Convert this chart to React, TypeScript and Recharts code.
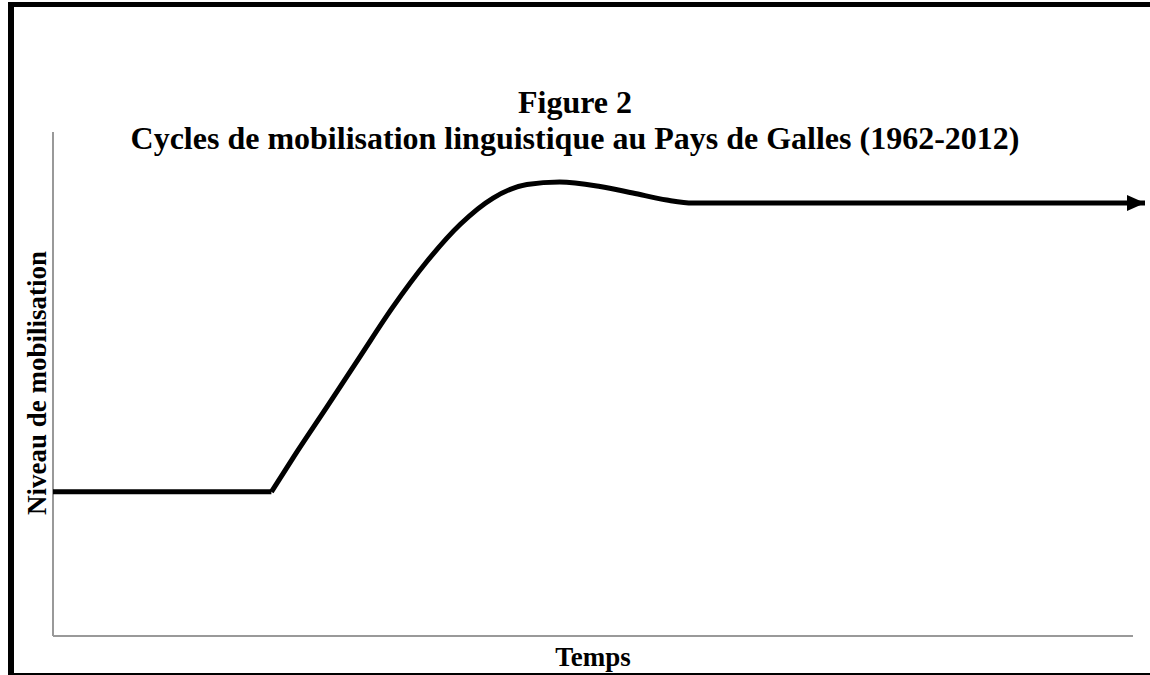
import { Line, LineChart, ReferenceLine, XAxis, YAxis } from "recharts";

// abstract time (0-100) vs mobilisation level (0-100)
const baseTime = [0, 20];
const baseLevel = [28.6, 28.6];

const riseTime = [20, 22, 25.1, 28.1, 31.1, 34.2, 37.3, 40.3, 43.4, 46.4, 50.1, 53.1, 56.2, 58.6, 64, 100];
const riseLevel = [28.6, 35.4, 45.5, 55.4, 65.2, 74.2, 81.7, 86.9, 89.6, 90.1, 89.2, 87.9, 86.5, 85.9, 85.9, 85.9];

const xAxisEnd = 98.9;
const yAxisTop = 100;

const baseData = baseTime.map((t, i) => ({ t, level: baseLevel[i] }));
const riseData = riseTime.map((t, i) => ({ t, level: riseLevel[i] }));

const serif = '"Liberation Serif", "Times New Roman", serif';
const axisGray = "#999999";

function ArrowDot(props: any) {
  const { cx, cy, index } = props;
  if (index !== riseData.length - 1) return <g key={`d-${index}`} />;
  return (
    <polygon
      key={`d-${index}`}
      points={`${cx},${cy} ${cx - 18},${cy - 8} ${cx - 18},${cy + 8}`}
      fill="#000"
    />
  );
}

export default function App() {
  return (
    <div
      style={{
        position: "absolute",
        left: 0,
        top: 0,
        width: 1150,
        height: 675,
        background: "#fff",
        fontFamily: serif,
        overflow: "hidden",
      }}
    >
      {/* frame */}
      <div style={{ position: "absolute", left: 8, top: 2, width: 6, height: 673, background: "#000" }} />
      <div style={{ position: "absolute", left: 8, top: 2, width: 1142, height: 5, background: "#000" }} />
      <div style={{ position: "absolute", left: 8, top: 673, width: 1142, height: 2, background: "#000" }} />

      <div
        style={{
          position: "absolute",
          left: 0,
          top: 84,
          width: 1150,
          textAlign: "center",
          fontWeight: "bold",
          fontSize: 32,
          lineHeight: "36px",
          color: "#000",
        }}
      >
        <div>Figure 2</div>
        <div>Cycles de mobilisation linguistique au Pays de Galles (1962-2012)</div>
      </div>

      <div style={{ position: "absolute", left: 0, top: 0 }}>
        <LineChart width={1150} height={675} margin={{ top: 132, right: 5, bottom: 39, left: 53 }}>
          <XAxis type="number" dataKey="t" domain={[0, 100]} hide />
          <YAxis type="number" domain={[0, 100]} hide />
          <ReferenceLine
            segment={[{ x: 0, y: 0 }, { x: 0, y: yAxisTop }]}
            stroke={axisGray}
            strokeWidth={2}
          />
          <ReferenceLine
            segment={[{ x: 0, y: 0 }, { x: xAxisEnd, y: 0 }]}
            stroke={axisGray}
            strokeWidth={2}
          />
          <Line
            data={baseData}
            dataKey="level"
            type="linear"
            stroke="#000"
            strokeWidth={5}
            dot={false}
            isAnimationActive={false}
          />
          <Line
            data={riseData}
            dataKey="level"
            type="monotone"
            stroke="#000"
            strokeWidth={5}
            dot={ArrowDot}
            activeDot={false}
            isAnimationActive={false}
          />
        </LineChart>
      </div>

      <div
        style={{
          position: "absolute",
          left: 37,
          top: 383,
          transform: "translate(-50%, -50%) rotate(-90deg)",
          whiteSpace: "nowrap",
          fontWeight: "bold",
          fontSize: 27,
          lineHeight: "30px",
          color: "#000",
        }}
      >
        Niveau de mobilisation
      </div>

      <div
        style={{
          position: "absolute",
          left: 53,
          width: 1080,
          top: 642,
          textAlign: "center",
          fontWeight: "bold",
          fontSize: 27,
          lineHeight: "30px",
          color: "#000",
        }}
      >
        Temps
      </div>
    </div>
  );
}
